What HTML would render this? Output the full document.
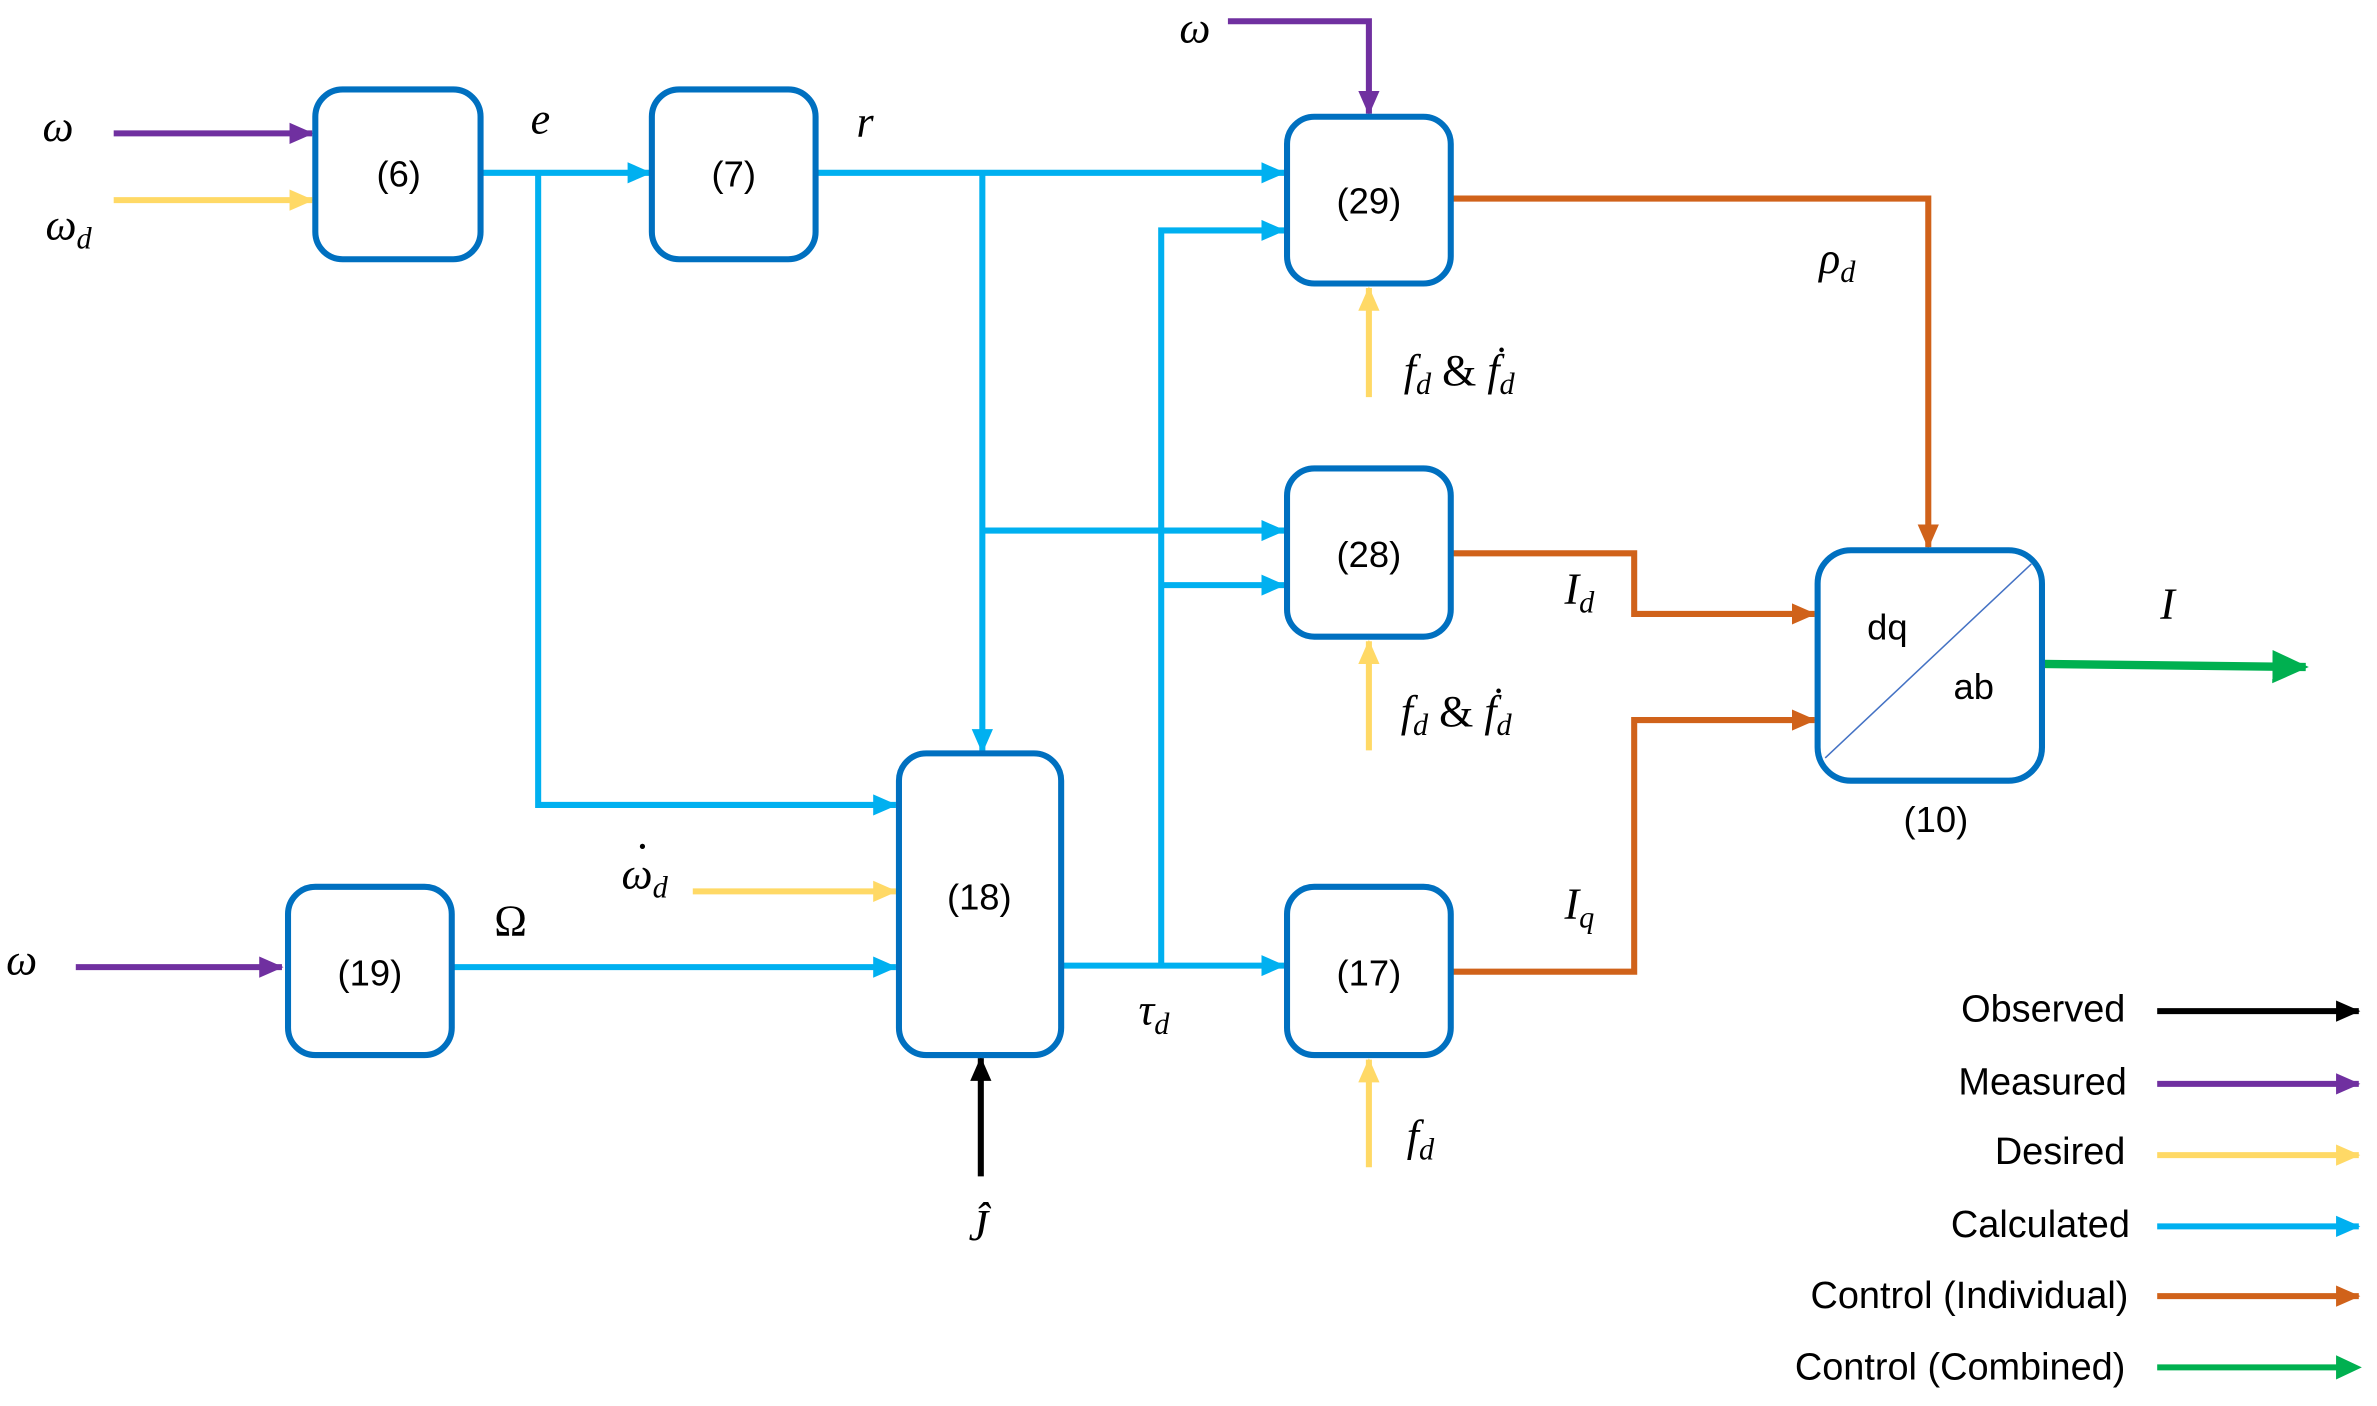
<!DOCTYPE html>
<html><head><meta charset="utf-8"><style>
html,body{margin:0;padding:0;background:#fff;}
svg{display:block;}
.b{font-family:"Liberation Sans",sans-serif;font-size:24px;fill:#000;}
.m{font-family:"Liberation Serif","DejaVu Serif",serif;font-style:italic;font-size:29px;fill:#000;}
.s{font-size:20px;}
.lg{font-family:"Liberation Sans",sans-serif;font-size:25px;fill:#000;text-anchor:end;}
</style></head><body>
<svg width="2377" height="1406" viewBox="0 0 1568 927.5" preserveAspectRatio="none" xmlns="http://www.w3.org/2000/svg">
<defs>
<marker id="aC" markerUnits="userSpaceOnUse" markerWidth="16" markerHeight="16" refX="15" refY="8" orient="auto"><path d="M0,1 L16,8 L0,15 Z" fill="#00B0F0"/></marker>
<marker id="aP" markerUnits="userSpaceOnUse" markerWidth="16" markerHeight="16" refX="15" refY="8" orient="auto"><path d="M0,1 L16,8 L0,15 Z" fill="#7030A0"/></marker>
<marker id="aY" markerUnits="userSpaceOnUse" markerWidth="16" markerHeight="16" refX="15" refY="8" orient="auto"><path d="M0,1 L16,8 L0,15 Z" fill="#FFD966"/></marker>
<marker id="aO" markerUnits="userSpaceOnUse" markerWidth="16" markerHeight="16" refX="15" refY="8" orient="auto"><path d="M0,1 L16,8 L0,15 Z" fill="#D0621A"/></marker>
<marker id="aK" markerUnits="userSpaceOnUse" markerWidth="16" markerHeight="16" refX="15" refY="8" orient="auto"><path d="M0,1 L16,8 L0,15 Z" fill="#000"/></marker>
<marker id="aG" markerUnits="userSpaceOnUse" markerWidth="24" markerHeight="24" refX="22" refY="12" orient="auto"><path d="M0,1 L24,12 L0,23 Z" fill="#00B050"/></marker>
</defs>
<g fill="none" stroke-width="4">
<path d="M75,88 H206" stroke="#7030A0" marker-end="url(#aP)"/>
<path d="M50,638 H186" stroke="#7030A0" marker-end="url(#aP)"/>
<path d="M810,14 H903 V75" stroke="#7030A0" marker-end="url(#aP)"/>
<path d="M75,132 H206" stroke="#FFD966" marker-end="url(#aY)"/>
<path d="M457,588 H591" stroke="#FFD966" marker-end="url(#aY)"/>
<path d="M903,262 V190" stroke="#FFD966" marker-end="url(#aY)"/>
<path d="M903,495 V423" stroke="#FFD966" marker-end="url(#aY)"/>
<path d="M903,770 V699" stroke="#FFD966" marker-end="url(#aY)"/>
<path d="M317,114 H429" stroke="#00B0F0" marker-end="url(#aC)"/>
<path d="M355,114 V531 H591" stroke="#00B0F0" marker-end="url(#aC)"/>
<path d="M538,114 H847" stroke="#00B0F0" marker-end="url(#aC)"/>
<path d="M648,114 V496" stroke="#00B0F0" marker-end="url(#aC)"/>
<path d="M648,350 H847" stroke="#00B0F0" marker-end="url(#aC)"/>
<path d="M766,637 V152 H847" stroke="#00B0F0" marker-end="url(#aC)"/>
<path d="M766,386 H847" stroke="#00B0F0" marker-end="url(#aC)"/>
<path d="M298,638 H591" stroke="#00B0F0" marker-end="url(#aC)"/>
<path d="M700,637 H847" stroke="#00B0F0" marker-end="url(#aC)"/>
<path d="M647,776 V698" stroke="#000" marker-end="url(#aK)"/>
<path d="M957,131 H1272 V361" stroke="#D0621A" marker-end="url(#aO)"/>
<path d="M957,365 H1078 V405 H1197" stroke="#D0621A" marker-end="url(#aO)"/>
<path d="M957,641 H1078 V475 H1197" stroke="#D0621A" marker-end="url(#aO)"/>
<path d="M1347,438 L1521,440" stroke="#00B050" stroke-width="5.5" marker-end="url(#aG)"/>
<g stroke="#0070C0" stroke-width="4" fill="#fff">
<rect x="208" y="59" width="109" height="112" rx="18"/>
<rect x="430" y="59" width="108" height="112" rx="18"/>
<rect x="849" y="77" width="108" height="110" rx="18"/>
<rect x="849" y="309" width="108" height="111" rx="18"/>
<rect x="849" y="585" width="108" height="111" rx="18"/>
<rect x="593" y="497" width="107" height="199" rx="18"/>
<rect x="190" y="585" width="108" height="111" rx="18"/>
<rect x="1199" y="363" width="148" height="152" rx="22"/>
</g>
<path d="M1204,500 L1340,372" stroke="#4472C4" stroke-width="1"/>
<path d="M1423,667 H1556" stroke="#000" marker-end="url(#aK)"/>
<path d="M1423,715 H1556" stroke="#7030A0" marker-end="url(#aP)"/>
<path d="M1423,762 H1556" stroke="#FFD966" marker-end="url(#aY)"/>
<path d="M1423,809 H1556" stroke="#00B0F0" marker-end="url(#aC)"/>
<path d="M1423,855 H1556" stroke="#D0621A" marker-end="url(#aO)"/>
<path d="M1423,902 H1544" stroke="#00B050"/>
</g>
<path d="M1541,894 L1558,902 L1541,910 Z" fill="#00B050"/>
<g class="b" text-anchor="middle">
<text x="263" y="123">(6)</text>
<text x="484" y="123">(7)</text>
<text x="903" y="141">(29)</text>
<text x="903" y="374">(28)</text>
<text x="903" y="650">(17)</text>
<text x="646" y="600">(18)</text>
<text x="244" y="650">(19)</text>
<text x="1245" y="422">dq</text>
<text x="1302" y="461">ab</text>
<text x="1277" y="549">(10)</text>
</g>
<text class="m" x="28" y="93">ω</text>
<text class="m" x="30" y="158">ω<tspan class="s" dy="6">d</tspan></text>
<text class="m" x="350" y="88">e</text>
<text class="m" x="565" y="90">r</text>
<text class="m" x="778" y="28">ω</text>
<text class="m" x="4" y="643">ω</text>
<text class="m" x="326" y="617" style="font-style:normal">Ω</text>
<text class="m" x="410" y="586">ω<tspan class="s" dy="6">d</tspan></text>
<text class="m" x="419" y="568" style="font-style:normal">·</text>
<text class="m" x="751" y="676">τ<tspan class="s" dy="6">d</tspan></text>
<text class="m" x="639" y="818">Ĵ</text>
<text class="m" x="926" y="254">f<tspan class="s" dy="6">d</tspan><tspan dy="-6" style="font-style:normal"> &amp; </tspan>ḟ<tspan class="s" dy="6">d</tspan></text>
<text class="m" x="924" y="479">f<tspan class="s" dy="6">d</tspan><tspan dy="-6" style="font-style:normal"> &amp; </tspan>ḟ<tspan class="s" dy="6">d</tspan></text>
<text class="m" x="928" y="759">f<tspan class="s" dy="6">d</tspan></text>
<text class="m" x="1200" y="180">ρ<tspan class="s" dy="6">d</tspan></text>
<text class="m" x="1032" y="398">I<tspan class="s" dy="6">d</tspan></text>
<text class="m" x="1032" y="606">I<tspan class="s" dy="6">q</tspan></text>
<text class="m" x="1425" y="408">I</text>
<text class="lg" x="1402" y="674">Observed</text>
<text class="lg" x="1403" y="722">Measured</text>
<text class="lg" x="1402" y="768">Desired</text>
<text class="lg" x="1405" y="816">Calculated</text>
<text class="lg" x="1404" y="863">Control (Individual)</text>
<text class="lg" x="1402" y="910">Control (Combined)</text>
</svg>
</body></html>
